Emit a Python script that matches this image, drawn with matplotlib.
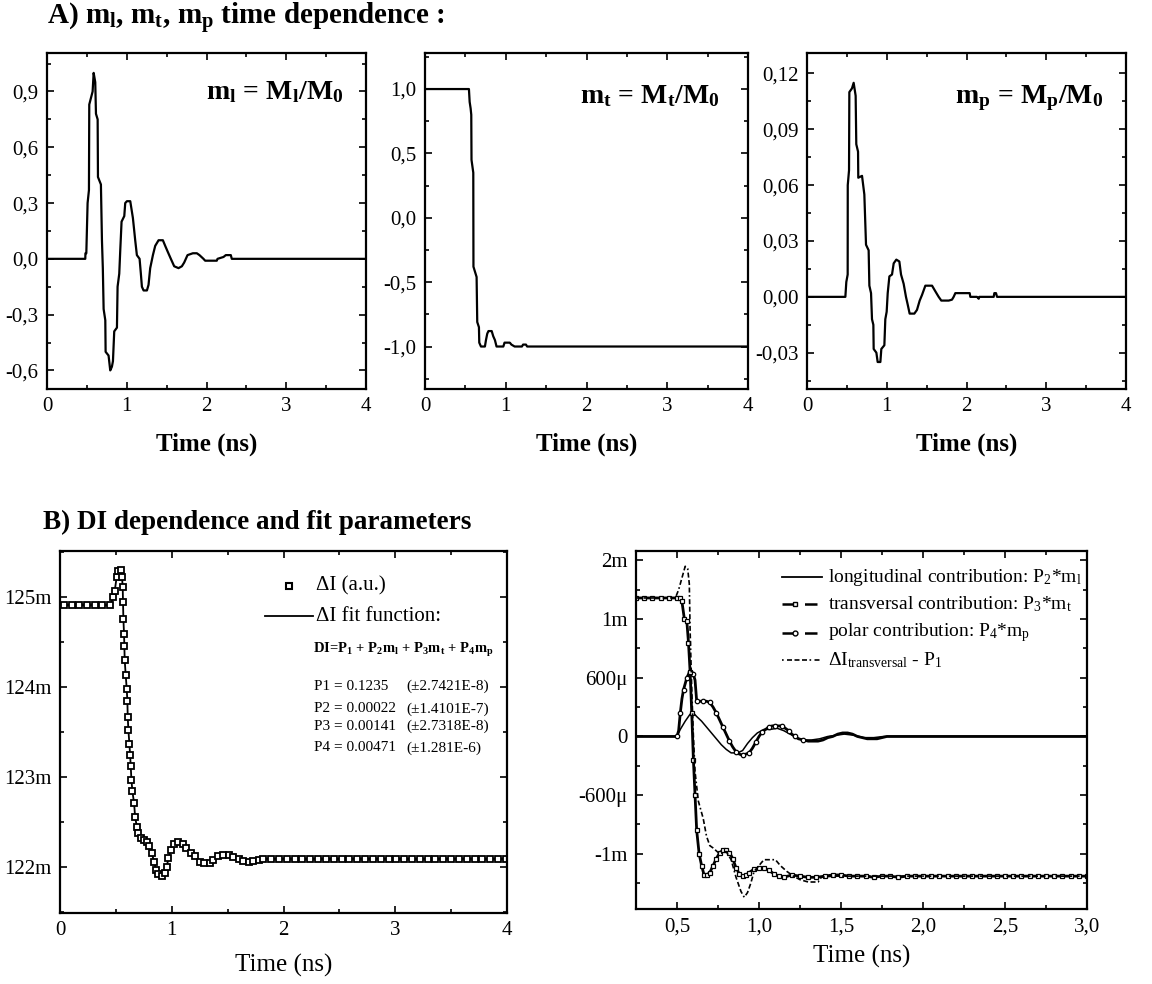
import matplotlib
matplotlib.use("Agg")
import matplotlib.pyplot as plt
from matplotlib.ticker import MultipleLocator, FuncFormatter, FixedLocator, FixedFormatter

plt.rcParams['font.family'] = ['Liberation Serif', 'DejaVu Serif']
plt.rcParams['mathtext.fontset'] = 'custom'
plt.rcParams['mathtext.rm'] = 'Liberation Serif'
plt.rcParams['mathtext.it'] = 'Liberation Serif:italic'
plt.rcParams['mathtext.bf'] = 'Liberation Serif:bold'

# ---- A) normalised magnetisation components (time in ns) ----
ml_t = [0.0, 0.480, 0.482, 0.493, 0.509, 0.526, 0.530, 0.572, 0.585, 0.605, 0.614, 0.635, 0.639,
        0.676, 0.689, 0.700, 0.710, 0.731, 0.735, 0.772, 0.793, 0.814, 0.827, 0.843, 0.877, 0.885,
        0.906, 0.919, 0.935, 0.969, 0.981, 1.002, 1.044, 1.077, 1.094, 1.106, 1.127, 1.161, 1.177,
        1.190, 1.211, 1.253, 1.273, 1.294, 1.328, 1.357, 1.399, 1.453, 1.482, 1.512, 1.553, 1.595,
        1.649, 1.691, 1.720, 1.762, 1.829, 1.879, 1.912, 1.962, 1.983, 2.129, 2.138, 2.213, 2.242,
        2.305, 2.317, 4.0]
ml_v = [0.0, 0.0, 0.03, 0.03, 0.30, 0.37, 0.83, 0.90, 1.00, 0.95, 0.78, 0.75, 0.44,
        0.40, 0.10, -0.05, -0.27, -0.33, -0.50, -0.52, -0.60, -0.58, -0.55, -0.39, -0.37, -0.15,
        -0.08, 0.05, 0.20, 0.23, 0.30, 0.31, 0.31, 0.22, 0.15, 0.10, 0.02, 0.00, -0.08,
        -0.15, -0.17, -0.17, -0.14, -0.05, 0.02, 0.07, 0.10, 0.10, 0.07, 0.04, 0.00, -0.04,
        -0.05, -0.04, -0.02, 0.02, 0.03, 0.03, 0.02, 0.00, -0.01, -0.01, 0.00, 0.01, 0.02,
        0.02, 0.00, 0.00]

mt_t = [0.0, 0.544, 0.553, 0.565, 0.573, 0.576, 0.598, 0.600, 0.639, 0.647, 0.668, 0.672, 0.693,
        0.742, 0.755, 0.771, 0.786, 0.826, 0.845, 0.866, 0.886, 0.970, 0.985, 1.050, 1.070, 1.110,
        1.200, 1.215, 1.250, 1.265, 4.0]
mt_v = [1.0, 1.0, 0.90, 0.85, 0.80, 0.45, 0.35, -0.38, -0.46, -0.81, -0.85, -0.97, -1.0,
        -1.0, -0.95, -0.90, -0.88, -0.88, -0.92, -0.95, -1.0, -1.0, -0.97, -0.97, -0.985, -1.0,
        -1.0, -0.985, -0.985, -1.0, -1.0]

mp_t = [0.0, 0.481, 0.493, 0.510, 0.511, 0.527, 0.531, 0.564, 0.585, 0.610, 0.618, 0.640, 0.643,
        0.690, 0.719, 0.740, 0.773, 0.782, 0.803, 0.815, 0.832, 0.836, 0.870, 0.886, 0.920, 0.932,
        0.970, 0.982, 0.999, 1.012, 1.033, 1.066, 1.087, 1.120, 1.158, 1.179, 1.212, 1.241, 1.262,
        1.287, 1.346, 1.379, 1.413, 1.442, 1.484, 1.568, 1.609, 1.651, 1.684, 1.777, 1.818, 1.839,
        1.860, 2.040, 2.048, 2.132, 2.153, 2.161, 2.341, 2.349, 2.370, 2.383, 4.0]
mp_v = [0.0, 0.0, 0.008, 0.012, 0.060, 0.068, 0.110, 0.112, 0.115, 0.108, 0.082, 0.078, 0.064,
        0.065, 0.055, 0.028, 0.025, 0.006, 0.002, -0.012, -0.015, -0.028, -0.030, -0.035, -0.035, -0.028,
        -0.026, -0.012, -0.008, 0.002, 0.011, 0.012, 0.018, 0.020, 0.019, 0.012, 0.007, 0.000, -0.004,
        -0.009, -0.009, -0.007, -0.002, 0.001, 0.006, 0.006, 0.003, 0.000, -0.002, -0.002, -0.0015, 0.000,
        0.002, 0.002, 0.000, 0.000, -0.001, 0.000, 0.000, 0.002, 0.002, 0.000, 0.000]

# ---- B) measured Delta I (units of 1e-3) ----
di_t = [0.036, 0.104, 0.173, 0.240, 0.310, 0.380, 0.450,
        0.478, 0.490, 0.507, 0.522, 0.543, 0.555, 0.561, 0.564, 0.567, 0.573,
        0.576, 0.579, 0.588, 0.597, 0.603, 0.606, 0.612, 0.621, 0.627, 0.633,
        0.639, 0.648, 0.663, 0.672, 0.687, 0.700, 0.722, 0.752, 0.782, 0.800,
        0.820, 0.842, 0.860, 0.880, 0.910, 0.940, 0.955, 0.970, 0.990, 1.020,
        1.060, 1.100, 1.130, 1.170, 1.210, 1.250, 1.290, 1.340, 1.370, 1.410,
        1.460, 1.510, 1.550, 1.600, 1.640, 1.690, 1.730, 1.780,
        1.82, 1.89, 1.96, 2.03, 2.10, 2.17, 2.24, 2.31, 2.38, 2.45, 2.52, 2.59, 2.66, 2.73,
        2.80, 2.87, 2.94, 3.01, 3.08, 3.15, 3.22, 3.29, 3.36, 3.43, 3.50, 3.57, 3.64, 3.71,
        3.78, 3.85, 3.92, 3.99]
di_v = [124.91, 124.91, 124.91, 124.91, 124.91, 124.91, 124.91,
        125.00, 125.07, 125.22, 125.29, 125.30, 125.22, 125.11, 124.94, 124.76, 124.59,
        124.45, 124.30, 124.13, 123.98, 123.84, 123.67, 123.52, 123.37, 123.25, 123.12,
        122.97, 122.84, 122.71, 122.56, 122.45, 122.38, 122.32, 122.30, 122.28, 122.23,
        122.16, 122.06, 121.97, 121.92, 121.90, 121.93, 122.00, 122.10, 122.19, 122.26,
        122.28, 122.26, 122.21, 122.16, 122.12, 122.06, 122.04, 122.04, 122.08, 122.12,
        122.13, 122.13, 122.11, 122.09, 122.07, 122.06, 122.07, 122.08,
        122.09, 122.09, 122.09, 122.09, 122.09, 122.09, 122.09, 122.09, 122.09, 122.09, 122.09,
        122.09, 122.09, 122.09, 122.09, 122.09, 122.09, 122.09, 122.09, 122.09, 122.09, 122.09,
        122.09, 122.09, 122.09, 122.09, 122.09, 122.09, 122.09, 122.09, 122.09, 122.09]

fit_params = ["P1 = 0.1235", "P2 = 0.00022", "P3 = 0.00141", "P4 = 0.00471"]
fit_errors = ["(\u00b12.7421E-8)", "(\u00b11.4101E-7)", "(\u00b12.7318E-8)", "(\u00b11.281E-6)"]

# ---- B) contributions (units of 1e-3) ----
long_t = [0.25, 0.50, 0.52, 0.55, 0.58, 0.60, 0.62, 0.65, 0.68, 0.71,
          0.74, 0.77, 0.80, 0.83, 0.87, 0.90, 0.93, 0.96, 0.99, 1.03,
          1.07, 1.11, 1.15, 1.19, 1.23, 1.27, 1.32, 1.37, 1.42, 1.47,
          1.52, 1.58, 1.64, 1.70, 1.76, 1.82, 3.0]
long_v = [0.0, 0.0, 0.06, 0.13, 0.19, 0.20, 0.17, 0.13, 0.08, 0.03,
          -0.02, -0.07, -0.11, -0.14, -0.14, -0.12, -0.06, -0.01, 0.03, 0.06,
          0.06, 0.07, 0.05, 0.02, -0.01, -0.03, -0.03, -0.02, 0.00, 0.01,
          0.02, 0.01, -0.01, -0.01, 0.00, 0.00, 0.00]

trans_t = [0.25, 0.30, 0.35, 0.40, 0.45, 0.50, 0.52, 0.53, 0.545, 0.56,
           0.57, 0.58, 0.59, 0.60, 0.61, 0.62, 0.635, 0.65, 0.665, 0.68,
           0.70, 0.72, 0.74, 0.76, 0.78, 0.80, 0.82, 0.84, 0.86, 0.88,
           0.90, 0.92, 0.94, 0.97, 1.00, 1.03, 1.06, 1.09, 1.12, 1.15,
           1.20, 1.25, 1.30, 1.35, 1.40, 1.45, 1.50,
           1.55, 1.60, 1.65, 1.70, 1.75, 1.80, 1.85, 1.90, 1.95, 2.00,
           2.05, 2.10, 2.15, 2.20, 2.25, 2.30, 2.35, 2.40, 2.45, 2.50,
           2.55, 2.60, 2.65, 2.70, 2.75, 2.80, 2.85, 2.90, 2.95, 3.00]
trans_v = [1.18, 1.18, 1.18, 1.18, 1.18, 1.18, 1.18, 1.15, 1.00, 0.98,
           0.80, 0.55, 0.20, -0.20, -0.50, -0.80, -1.00, -1.10, -1.18, -1.18,
           -1.16, -1.10, -1.04, -0.99, -0.97, -0.97, -0.99, -1.04, -1.12, -1.17,
           -1.19, -1.18, -1.16, -1.13, -1.12, -1.12, -1.14, -1.17, -1.19, -1.20,
           -1.18, -1.19, -1.20, -1.20, -1.19, -1.18, -1.18,
           -1.19, -1.19, -1.19, -1.20, -1.19, -1.19, -1.20, -1.19, -1.19, -1.19,
           -1.19, -1.19, -1.19, -1.19, -1.19, -1.19, -1.19, -1.19, -1.19, -1.19,
           -1.19, -1.19, -1.19, -1.19, -1.19, -1.19, -1.19, -1.19, -1.19, -1.19]

pol_t = [0.25, 0.30, 0.35, 0.40, 0.45, 0.50, 0.51, 0.52, 0.53, 0.54,
         0.55, 0.56, 0.57, 0.58, 0.59, 0.60, 0.61, 0.62, 0.64, 0.66,
         0.68, 0.70, 0.72, 0.74, 0.76, 0.78, 0.80, 0.82, 0.84, 0.86,
         0.88, 0.90, 0.92, 0.94, 0.96, 0.98, 1.00, 1.02, 1.04, 1.06,
         1.08, 1.10, 1.12, 1.14, 1.16, 1.18, 1.20, 1.22, 1.24, 1.27,
         1.30, 1.33, 1.36, 1.39, 1.42, 1.45, 1.48, 1.51, 1.54, 1.57,
         1.60, 1.63, 1.66, 1.69, 1.72, 1.75, 1.78, 1.81, 3.0]
pol_v = [0.0, 0.0, 0.0, 0.0, 0.0, 0.0, 0.05, 0.20, 0.32, 0.40,
         0.45, 0.50, 0.53, 0.55, 0.55, 0.53, 0.48, 0.30, 0.30, 0.30,
         0.30, 0.29, 0.25, 0.20, 0.14, 0.08, 0.02, -0.04, -0.09, -0.13,
         -0.15, -0.16, -0.15, -0.14, -0.10, -0.05, 0.00, 0.04, 0.06, 0.08,
         0.09, 0.09, 0.09, 0.09, 0.07, 0.05, 0.02, 0.00, -0.02, -0.03,
         -0.04, -0.04, -0.04, -0.03, -0.01, 0.00, 0.02, 0.03, 0.03, 0.02,
         0.00, -0.01, -0.02, -0.02, -0.02, -0.01, 0.00, 0.00, 0.00]

dit_t = [0.25, 0.49, 0.51, 0.53, 0.55, 0.565, 0.575, 0.58, 0.59, 0.60,
         0.61, 0.63, 0.66, 0.68, 0.70, 0.72, 0.76, 0.80, 0.83, 0.86,
         0.89, 0.91, 0.93, 0.95, 0.97, 1.00, 1.03, 1.10, 1.13, 1.17,
         1.21, 1.25, 1.30, 1.36, 1.38, 1.45, 3.0]
dit_v = [1.18, 1.18, 1.25, 1.35, 1.45, 1.43, 1.30, 0.90, 0.40, 0.00,
         -0.30, -0.55, -0.70, -0.85, -0.93, -0.95, -1.00, -0.98, -1.05, -1.20,
         -1.32, -1.37, -1.33, -1.25, -1.15, -1.10, -1.05, -1.05, -1.10, -1.15,
         -1.19, -1.22, -1.24, -1.24, -1.20, -1.19, -1.19]

br_ticks = [-1.0, -0.5, 0.0, 0.5, 1.0, 1.5]
br_labels = ["-1m", "-600\u03bc", "0", "600\u03bc", "1m", "2m"]

W, H = 1152, 984
fig = plt.figure(figsize=(W / 100, H / 100), dpi=100)


def add_axes(left, top, right, bottom):
    return fig.add_axes([left / W, 1 - bottom / H, (right - left) / W, (bottom - top) / H])


def comma(fmt):
    return FuncFormatter(lambda v, p: fmt.format(0.0 if abs(v) < 1e-9 else v).replace('.', ','))


def style(ax, xmaj, xmin, ymaj, ymin, size=15):
    for s in ax.spines.values():
        s.set_linewidth(1.6)
    ax.xaxis.set_major_locator(MultipleLocator(xmaj))
    ax.xaxis.set_minor_locator(MultipleLocator(xmin))
    ax.yaxis.set_major_locator(MultipleLocator(ymaj))
    ax.yaxis.set_minor_locator(MultipleLocator(ymin))
    ax.tick_params(which='both', direction='in', top=True, right=True, width=1.2,
                   labelsize=size, pad=6)
    ax.tick_params(which='major', length=5)
    ax.tick_params(which='minor', length=3)


# ---------- A panels ----------
top_panels = [
    (47, 366, ml_t, ml_v, (-0.70, 1.107), 0.3, 0.15, "{:.1f}", r"$\mathbf{m_l\/=\/M_l/M_0}$", 0.928, 0.884),
    (425, 748, mt_t, mt_v, (-1.33, 1.28), 0.5, 0.25, "{:.1f}", r"$\mathbf{m_t\/=\/M_t/M_0}$", 0.913, 0.872),
    (807, 1126, mp_t, mp_v, (-0.0495, 0.131), 0.03, 0.015, "{:.2f}", r"$\mathbf{m_p\/=\/M_p/M_0}$", 0.928, 0.866),
]
for left, right, t, v, ylim, ymaj, ymin, fmt, label, lx, ly in top_panels:
    ax = add_axes(left, 53, right, 389)
    ax.plot(t, v, color='black', lw=1.6)
    ax.set_xlim(0, 4)
    ax.set_ylim(*ylim)
    style(ax, 1, 0.5, ymaj, ymin)
    ax.yaxis.set_major_formatter(comma(fmt))
    ax.set_xlabel("Time (ns)", fontsize=18, fontweight='bold', labelpad=12)
    ax.text(lx, ly, label, transform=ax.transAxes, fontsize=20, ha='right', va='center')

fig.text(47 / W, 1 - 19 / H, r"A) m$_\mathbf{l}$, m$_\mathbf{t}$, m$_\mathbf{p}$ time dependence :",
         fontsize=21, fontweight='bold', va='center')
fig.text(43 / W, 1 - 522 / H, "B) DI dependence and fit parameters",
         fontsize=19.5, fontweight='bold', va='center')

# ---------- B left: Delta I and fit ----------
ax = add_axes(60, 551, 507, 913)
ax.plot(di_t, di_v, color='black', lw=1.3)
ax.plot(di_t, di_v, ls='none', marker='s', ms=4.8, mfc='white', mec='black', mew=1.3)
ax.set_xlim(0, 4)
ax.set_ylim(121.49, 125.51)
style(ax, 1, 0.5, 1, 0.5)
ax.yaxis.set_major_formatter(FuncFormatter(lambda v, p: f"{v:.0f}m"))
ax.set_xlabel("Time (ns)", fontsize=18, labelpad=10)

ax.plot([0.512], [0.903], transform=ax.transAxes, marker='s', ms=5, mfc='white', mec='black',
        mew=1.5, clip_on=False)
ax.text(0.572, 0.903, "\u0394I (a.u.)", transform=ax.transAxes, fontsize=15, va='center')
ax.plot([0.459, 0.566], [0.82, 0.82], transform=ax.transAxes, color='black', lw=1.3)
ax.text(0.572, 0.82, "\u0394I fit function:", transform=ax.transAxes, fontsize=15, va='center')
ax.text(0.566, 0.727, r"DI=P$_\mathbf{1}$ + P$_\mathbf{2}$m$_\mathbf{l}$ + P$_\mathbf{3}$m$_\mathbf{t}$"
        r" + P$_\mathbf{4}$m$_\mathbf{p}$", transform=ax.transAxes, fontsize=10.5,
        fontweight='bold', va='center')
for name, err, y in zip(fit_params, fit_errors, [0.625, 0.564, 0.515, 0.456]):
    ax.text(0.568, y, name, transform=ax.transAxes, fontsize=11, va='center')
    ax.text(0.774, y, err, transform=ax.transAxes, fontsize=11, va='center')

# ---------- B right: contributions ----------
ax = add_axes(636, 551, 1087, 909)
ax.plot(long_t, long_v, color='black', lw=1.1)
ax.plot(pol_t, pol_v, color='black', lw=2.0, marker='o', ms=3.2, mfc='white', mec='black',
        mew=0.9, markevery=list(range(5, 50, 2)))
ax.plot(trans_t, trans_v, color='black', lw=2.0, marker='s', ms=3.0, mfc='white', mec='black',
        mew=0.9)
ax.plot(dit_t, dit_v, color='black', lw=1.2, dashes=(3, 1.5, 3, 1.5, 3, 1.5, 1, 1.5))
ax.set_xlim(0.25, 3.0)
ax.set_ylim(-1.47, 1.58)
style(ax, 0.5, 0.25, 0.5, 0.25)
ax.yaxis.set_major_locator(FixedLocator(br_ticks))
ax.yaxis.set_major_formatter(FixedFormatter(br_labels))
ax.xaxis.set_major_formatter(comma("{:.1f}"))
ax.set_xlabel("Time (ns)", fontsize=18, labelpad=6)

leg_rows = [0.927, 0.852, 0.772, 0.696]
leg_text = [r"longitudinal contribution: P$_2$*m$_\mathrm{l}$",
            r"transversal contribution: P$_3$*m$_\mathrm{t}$",
            r"polar contribution: P$_4$*m$_\mathrm{p}$",
            r"$\Delta$I$_\mathrm{transversal}$ - P$_1$"]
x0, x1 = 0.324, 0.412
ax.plot([x0, x1], [leg_rows[0]] * 2, transform=ax.transAxes, color='black', lw=1.3)
for y, mk in zip(leg_rows[1:3], ['s', 'o']):
    ax.plot([x0, x1], [y, y], transform=ax.transAxes, color='black', lw=1.8, dashes=(5, 4))
    ax.plot([0.352], [y], transform=ax.transAxes, ls='none', marker=mk, ms=3.5, mfc='white',
            mec='black', mew=1)
ax.plot([x0, x1], [leg_rows[3]] * 2, transform=ax.transAxes, color='black', lw=1.2,
        dashes=(1, 2, 3, 1.5, 3, 1.5, 3, 1.5))
for y, s in zip(leg_rows, leg_text):
    ax.text(0.426, y, s, transform=ax.transAxes, fontsize=14, va='center')

fig.savefig("out.png", dpi=100)
